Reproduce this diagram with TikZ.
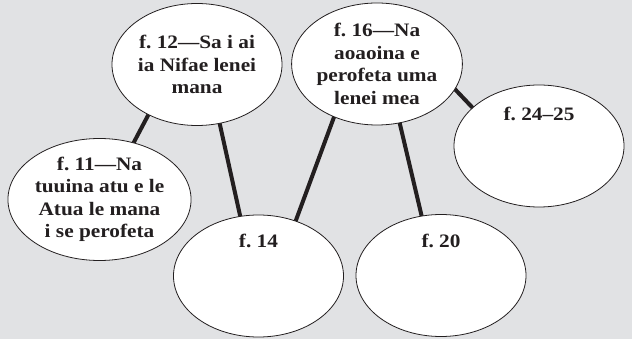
\documentclass[tikz,border=0pt]{standalone}
\usepackage{fontspec}
\setmainfont{Liberation Serif}[FakeStretch=1.12]
\frenchspacing
\usepackage{tikz}
\usetikzlibrary{shapes.geometric,backgrounds}
\definecolor{cBack}{RGB}{225,226,228}
\definecolor{cInk}{HTML}{231F20}

\begin{document}
\begin{tikzpicture}[
  x=1pt, y=-1pt,
  % ── bong bong trang, vien mong ──
  bub/.style={ellipse, draw=cInk, fill=white, line width=0.8pt,
              minimum width=170pt, minimum height=122pt, inner sep=0pt,
              align=center, text=cInk,
              font=\fontsize{19}{22.5}\selectfont\bfseries},
  top/.style={anchor=base, label distance=-#1, text=cInk,
              font=\fontsize{19}{22.5}\selectfont\bfseries},
  lnk/.style={line width=4pt, cInk, shorten <=-2pt, shorten >=-2pt},
]
\useasboundingbox (0,0) rectangle (632,339);

% ── hang tren ─────────────────────────────────────────────
\node[bub] (e12) at (197,64.5) {f. 12---Sa i ai\\ ia Nifae lenei\\ mana};
\node[bub] (e16) at (377,64)   {f. 16---Na\\ aoaoina e\\ perofeta uma\\ lenei mea};

% ── hang giua ─────────────────────────────────────────────
\node[bub] (e11) at (99.5,199.5) {f. 11---Na\\ tuuina atu e le\\ Atua le mana\\ i se perofeta};
\node[bub, label={[top=36pt]north:f. 24--25}] (e24) at (539,146) {};

% ── hang duoi ─────────────────────────────────────────────
\node[bub, label={[top=33pt]north:f. 14}] (e14) at (258.5,276) {};
\node[bub, label={[top=33pt]north:f. 20}] (e20) at (441,275.5) {};

% ── nen xam va cac doan noi (nam duoi bong bong) ──
\begin{scope}[on background layer]
  \fill[cBack] (0,0) rectangle (632,339);
  \draw[lnk] (e12.-134.7) -- (e11.59.3);
  \draw[lnk] (e12.-69.7)  -- (e14.107.8);
  \draw[lnk] (e16.-129.2) -- (e14.56.1);
  \draw[lnk] (e16.-69)    -- (e20.108.4);
  \draw[lnk] (e16.-18.9)  -- (e24.150.2);
\end{scope}
\end{tikzpicture}
\end{document}
